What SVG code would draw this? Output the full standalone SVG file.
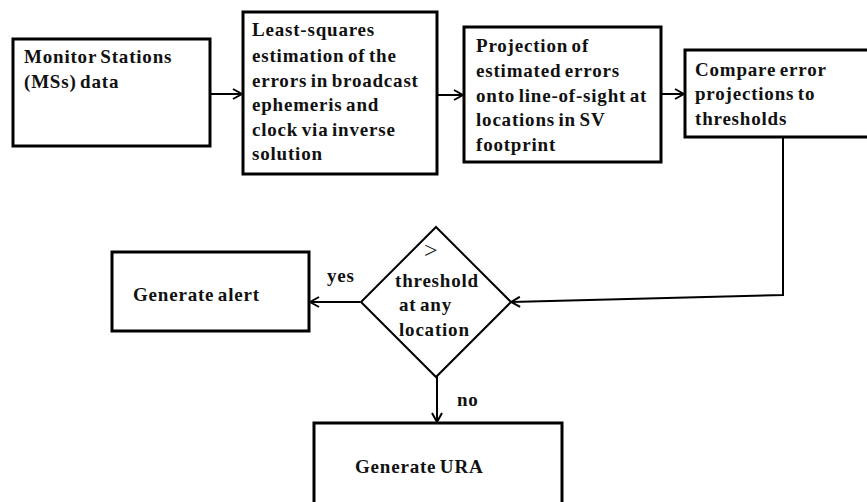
<svg xmlns="http://www.w3.org/2000/svg" width="867" height="502" viewBox="0 0 867 502">
<style>
.box{fill:#fff;stroke:#000;stroke-width:3}
.dia{fill:#fff;stroke:#000;stroke-width:2}
.t{font-family:'Liberation Serif','Times New Roman','DejaVu Serif',serif;font-weight:700;font-size:19px;fill:#111;letter-spacing:0.8px;word-spacing:-2px}
.g{font-family:'Liberation Serif','Times New Roman','DejaVu Serif',serif;font-weight:400;font-size:24px;fill:#111}
.c{fill:none;stroke:#000;stroke-width:2}
</style>
<defs>
<marker id="arr" markerWidth="12" markerHeight="12" viewBox="0 0 12 12" refX="11" refY="6" orient="auto" markerUnits="userSpaceOnUse">
<path d="M2,1 L11,6 L2,11" fill="none" stroke="#000" stroke-width="2"/>
</marker>
</defs>
<rect width="867" height="502" fill="#fff"/>
<g id="connectors">
<line class="c" x1="210" y1="94" x2="242" y2="94" marker-end="url(#arr)"/>
<line class="c" x1="437" y1="95" x2="463" y2="95" marker-end="url(#arr)"/>
<line class="c" x1="661" y1="94" x2="684" y2="94" marker-end="url(#arr)"/>
<polyline class="c" points="783,137 783,295 511,302" marker-end="url(#arr)"/>
<line class="c" x1="360" y1="302" x2="310" y2="302" marker-end="url(#arr)"/>
<line class="c" x1="437" y1="376" x2="437" y2="422" marker-end="url(#arr)"/>
<text class="t" x="327" y="282">yes</text>
<text class="t" x="457" y="406">no</text>
</g>
<g id="n1">
<rect class="box" x="13" y="39" width="197" height="107"/>
<text class="t" x="24" y="63">Monitor Stations</text>
<text class="t" x="24" y="87.5">(MSs) data</text>
</g>
<g id="n2">
<rect class="box" x="243" y="12" width="194" height="162"/>
<text class="t">
<tspan x="252" y="36">Least-squares</tspan>
<tspan x="252" y="61.5">estimation of  the</tspan>
<tspan x="252" y="86.5">errors in broadcast</tspan>
<tspan x="252" y="111">ephemeris and</tspan>
<tspan x="252" y="135.5">clock via inverse</tspan>
<tspan x="252" y="160">solution</tspan>
</text>
</g>
<g id="n3">
<rect class="box" x="464" y="27" width="197" height="135"/>
<text class="t">
<tspan x="476" y="52">Projection of</tspan>
<tspan x="476" y="77">estimated errors</tspan>
<tspan x="476" y="101.5">onto line-of-sight at</tspan>
<tspan x="476" y="126">locations in SV</tspan>
<tspan x="476" y="150.5">footprint</tspan>
</text>
</g>
<g id="n4">
<rect class="box" x="685" y="50" width="190" height="87"/>
<text class="t">
<tspan x="695" y="76">Compare error</tspan>
<tspan x="695" y="100">projections to</tspan>
<tspan x="695" y="124.5">thresholds</tspan>
</text>
</g>
<g id="n5">
<polygon class="dia" points="436,227 511,302 436,377 361,302"/>
<text class="g" x="424" y="258">&gt;</text>
<text class="t" x="395" y="287">threshold</text>
<text class="t" x="399" y="310.5">at any</text>
<text class="t" x="399" y="336">location</text>
</g>
<g id="n6">
<rect class="box" x="112" y="252" width="197" height="79"/>
<text class="t" x="133" y="301">Generate alert</text>
</g>
<g id="n7">
<rect class="box" x="314" y="423" width="248" height="90"/>
<text class="t" x="355" y="473">Generate URA</text>
</g>
</svg>
